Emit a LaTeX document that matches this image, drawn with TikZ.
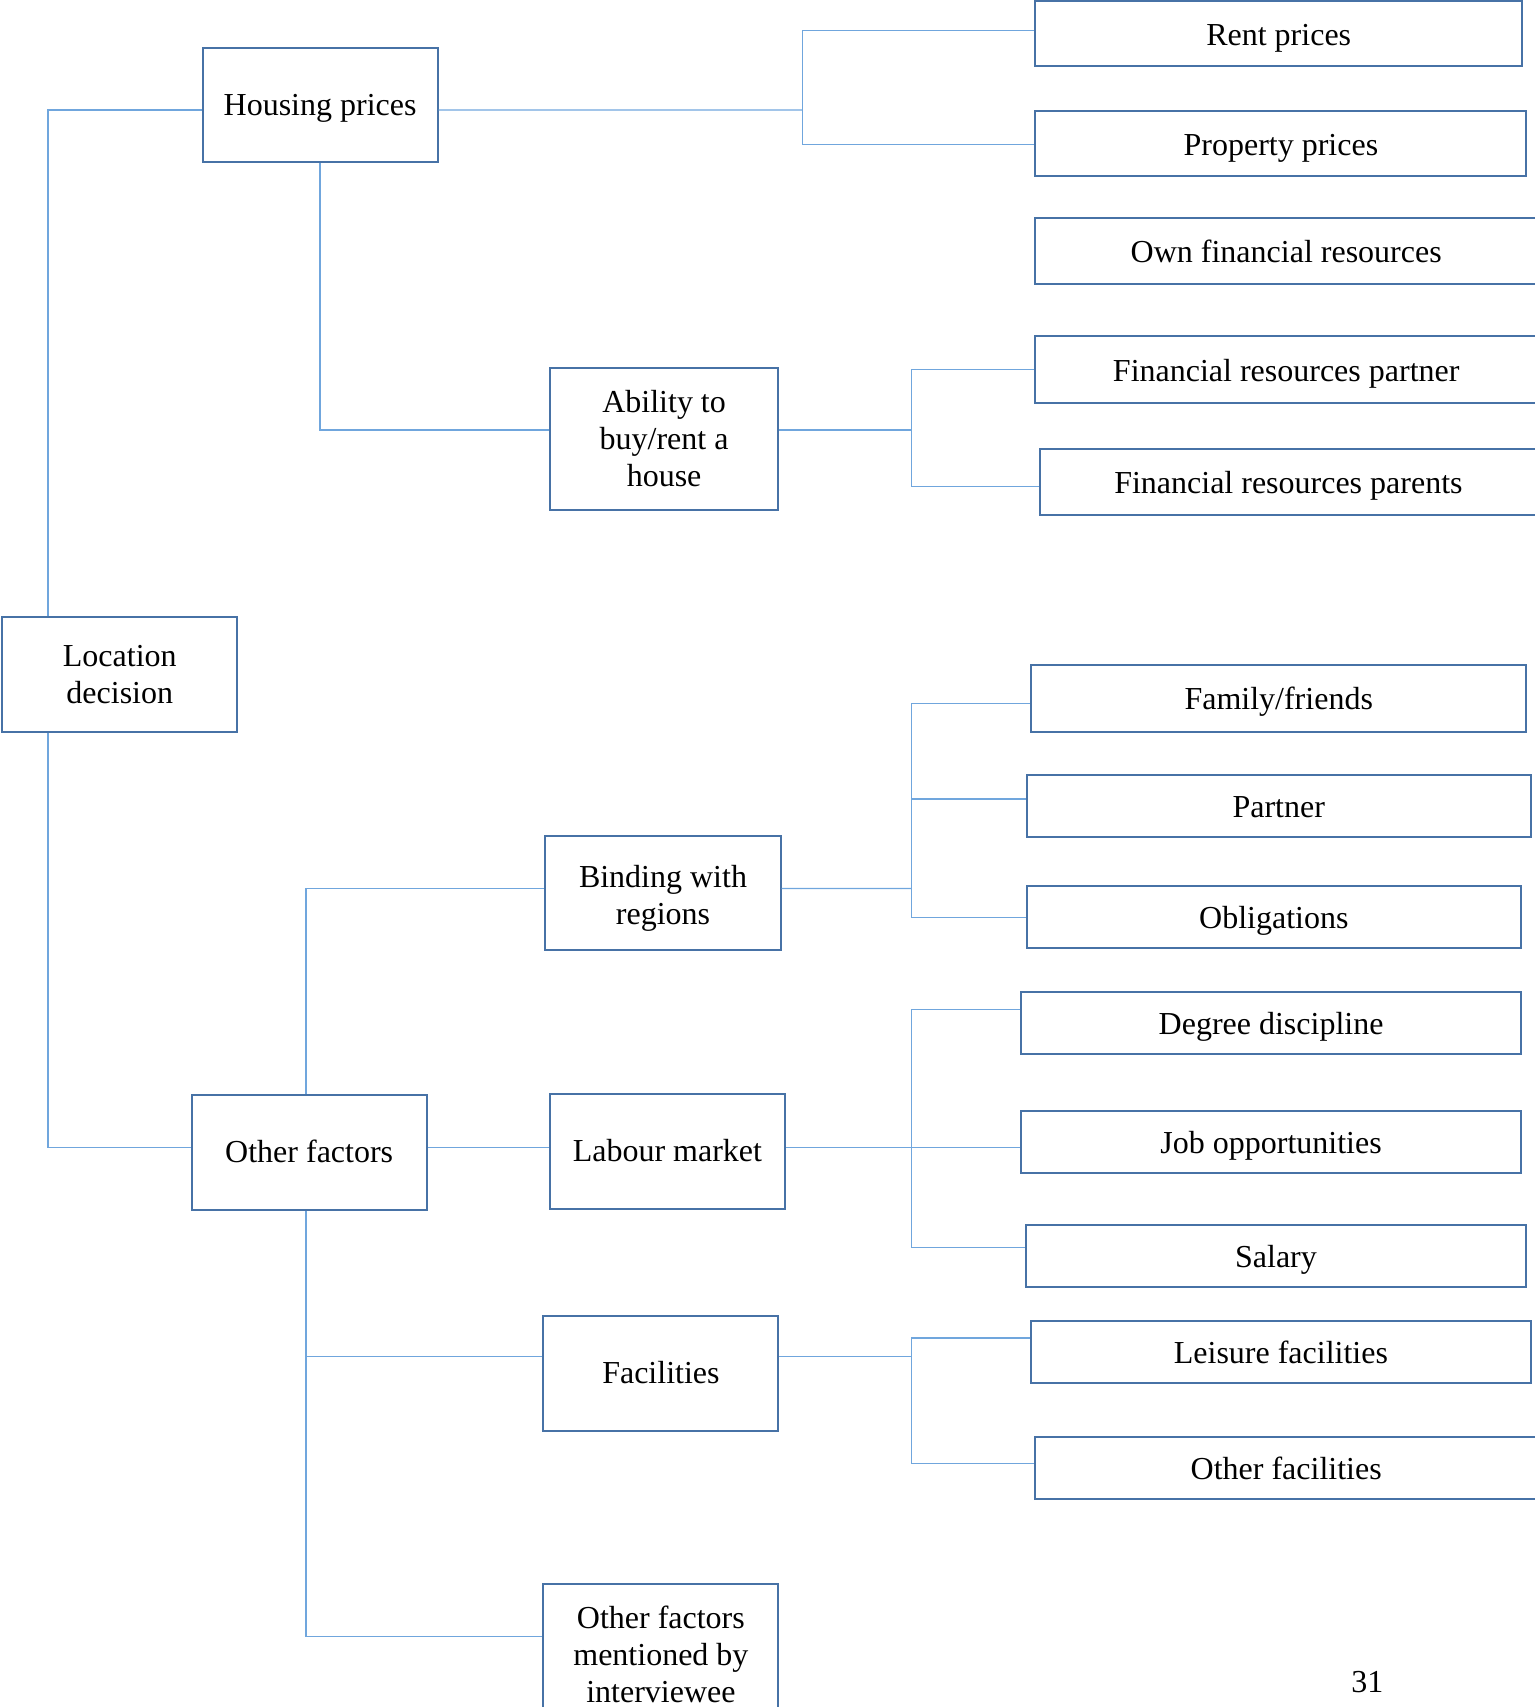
\documentclass[tikz,border=0pt]{standalone}
\usepackage{fontspec}
\setmainfont{Liberation Serif}
\definecolor{boxblue}{RGB}{71,114,166}
\definecolor{linkblue}{RGB}{112,166,221}
\begin{document}
\begin{tikzpicture}[
        x=1pt, y=-1pt,
        box/.style={rectangle, draw=boxblue, line width=2pt, fill=white, inner sep=0pt, align=center, font=\fontsize{32}{37}\selectfont},
        midone/.style={box, text height=27pt, text depth=7pt},
        leaf/.style={box, text height=30pt, text depth=7pt},
        link/.style={draw=linkblue, line width=1.3pt},
        pagenum/.style={font=\fontsize{32}{37}\selectfont}
    ]
    \useasboundingbox (0,0) rectangle (1534,1707);

    % left column
    \node[box, minimum width=235pt, minimum height=114.3pt] (loc) at (119.8,674.5) {Location\\decision};
    \node[midone, minimum width=235.2pt, minimum height=114.3pt] (hp) at (320.1,105.1) {Housing prices};
    \node[midone, minimum width=235.2pt, minimum height=114.4pt] (oth) at (309.2,1152.4) {Other factors};

    % middle column
    \node[box, minimum width=228.6pt, minimum height=141.5pt] (abil) at (664.1,438.8) {Ability to\\buy/rent a\\house};
    \node[box, minimum width=235.2pt, minimum height=114.3pt] (bind) at (663.0,893.3) {\rule{0pt}{32pt}Binding with\\regions};
    \node[midone, minimum width=235.2pt, minimum height=114.4pt] (lab) at (667.4,1151.3) {Labour market};
    \node[midone, minimum width=235.1pt, minimum height=114.3pt] (fac) at (660.9,1373.5) {Facilities};
    \node[box, minimum width=235.1pt, minimum height=141pt] (omen) at (660.9,1654.5) {Other factors\\mentioned by\\interviewee};

    % right column
    \node[leaf, minimum width=486.6pt, minimum height=65.3pt] (rent) at (1278.7,33.8) {Rent prices};
    \node[leaf, minimum width=491pt, minimum height=65.4pt] (prop) at (1280.9,143.7) {Property prices};
    \node[leaf, minimum width=501.6pt, minimum height=66.5pt] (own) at (1286.2,251.0) {Own financial resources};
    \node[leaf, minimum width=501.6pt, minimum height=66.4pt] (fpart) at (1286.2,369.6) {Financial resources partner};
    \node[leaf, minimum width=497.3pt, minimum height=66.5pt] (fpar) at (1288.4,481.8) {Financial resources parents};
    \node[leaf, minimum width=495.4pt, minimum height=66.4pt] (fam) at (1278.7,698.4) {Family/friends};
    \node[leaf, minimum width=504pt, minimum height=62pt] (part) at (1278.7,806.2) {Partner};
    \node[leaf, minimum width=494.2pt, minimum height=62.1pt] (obl) at (1273.8,917.3) {Obligations};
    \node[leaf, minimum width=499.7pt, minimum height=62.1pt] (deg) at (1271.1,1022.9) {Degree discipline};
    \node[leaf, minimum width=499.7pt, minimum height=62pt] (job) at (1271.1,1141.5) {Job opportunities};
    \node[leaf, minimum width=500.8pt, minimum height=62.1pt] (sal) at (1276.0,1255.9) {Salary};
    \node[leaf, minimum width=499.7pt, minimum height=62pt] (leis) at (1280.9,1351.6) {Leisure facilities};
    \node[leaf, minimum width=501.6pt, minimum height=62pt] (ofac) at (1286.2,1468.1) {Other facilities};

    \node[pagenum] (pg) at (1367.4,1682.1) {31};

    % fork points
    \coordinate (spine) at (47.9,674.5);
    \coordinate (trunk) at (305.9,1152.4);
    \coordinate (f1) at (802.4,110);
    \coordinate (f2) at (911.2,430);
    \coordinate (f3) at (911.2,888.4);
    \coordinate (f4) at (911.2,1147.5);
    \coordinate (f5) at (911.2,1356.5);

    % connectors
    \draw[link] (spine |- loc.north) |- ([yshift=-5pt]hp.west);
    \draw[link] (spine |- loc.south) |- ([yshift=4.9pt]oth.west);
    \draw[link] ([yshift=-5pt]hp.east) -- (f1);
    \draw[link] ([yshift=3.3pt]rent.west) -| (f1) |- ([yshift=-1pt]prop.west);
    \draw[link] (hp.south) |- ([yshift=8.8pt]abil.west);
    \draw[link] ([yshift=8.8pt]abil.east) -- (f2);
    \draw[link] (fpart.west) -| (f2) |- ([yshift=-5pt]fpar.west);

    \draw[link] (trunk |- oth.north) |- ([yshift=4.9pt]bind.west);
    \draw[link] ([yshift=4.9pt]bind.east) -- (f3);
    \draw[link] ([yshift=-4.9pt]fam.west) -| (f3) |- (obl.west);
    \draw[link] ([yshift=7.1pt]part.west) -| (f3);

    \draw[link] ([yshift=4.9pt]oth.east) -- ([yshift=3.8pt]lab.west);
    \draw[link] ([yshift=3.8pt]lab.east) -- ([yshift=-6pt]job.west);
    \draw[link] ([yshift=13.7pt]deg.west) -| (f4) |- ([yshift=8.3pt]sal.west);

    \draw[link] (trunk |- oth.south) |- ([yshift=18.2pt]omen.west);
    \draw[link] ([yshift=17pt]fac.west) -| (trunk |- oth.south);
    \draw[link] ([yshift=17pt]fac.east) -- (f5);
    \draw[link] ([yshift=13.6pt]leis.west) -| (f5) |- ([yshift=4.9pt]ofac.west);

\end{tikzpicture}
\end{document}
